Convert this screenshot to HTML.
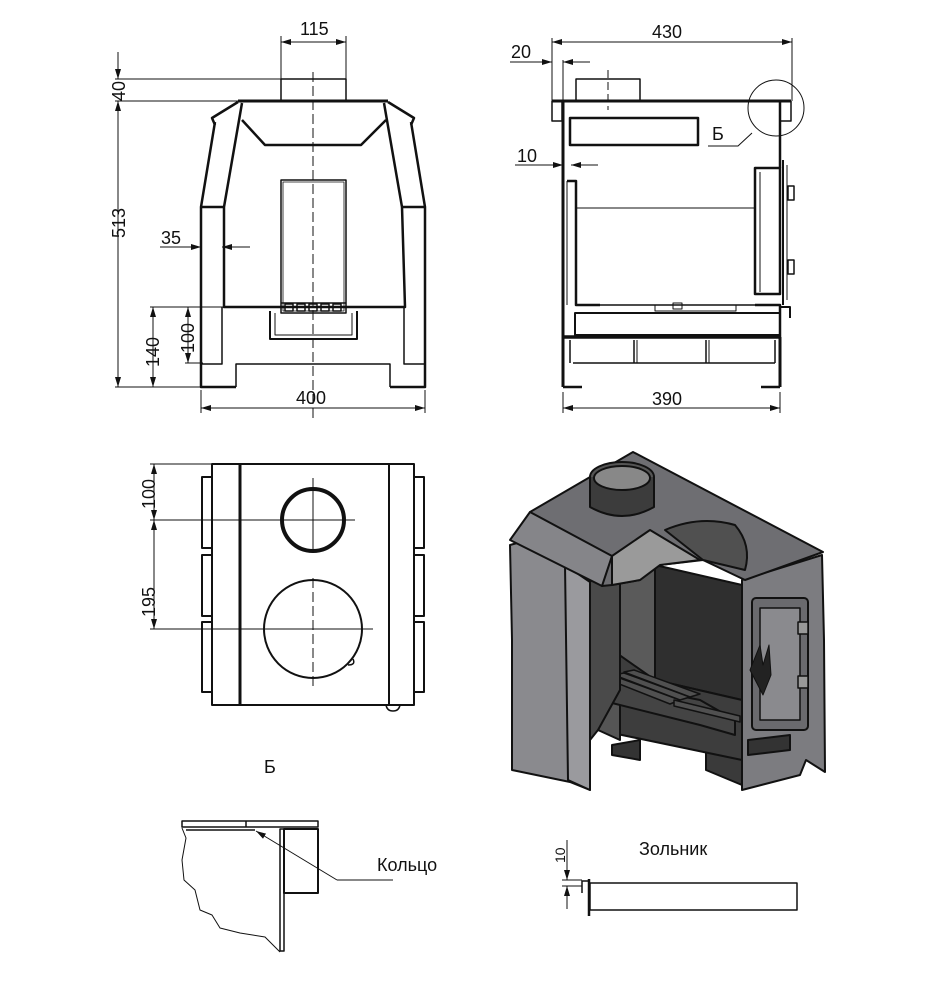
<!DOCTYPE html>
<html><head><meta charset="utf-8"><style>
html,body{margin:0;padding:0;background:#fff;}
svg{display:block;}
text{font-family:"Liberation Sans",sans-serif;fill:#111;}
</style></head><body>
<svg width="935" height="1000" viewBox="0 0 935 1000" xmlns="http://www.w3.org/2000/svg">
<defs>
<marker id="a" viewBox="0 0 10 6" refX="10" refY="3" markerWidth="10" markerHeight="6" orient="auto-start-reverse" markerUnits="userSpaceOnUse"><path d="M0,0 L10,3 L0,6 z" fill="#111"/></marker>
</defs>
<g fill="none" stroke="#111" stroke-linejoin="round">

<!-- ============ FRONT VIEW ============ -->
<g stroke-width="1">
<line x1="281" y1="36" x2="281" y2="79"/><line x1="346" y1="36" x2="346" y2="79"/>
<line x1="281" y1="42" x2="346" y2="42" marker-start="url(#a)" marker-end="url(#a)"/>
<line x1="115" y1="79" x2="281" y2="79"/><line x1="115" y1="101" x2="238" y2="101"/>
<line x1="118" y1="52" x2="118" y2="79" marker-end="url(#a)"/>
<line x1="118" y1="101" x2="118" y2="387" marker-start="url(#a)" marker-end="url(#a)"/>
<line x1="115" y1="387" x2="201" y2="387"/>
<line x1="160" y1="247" x2="201" y2="247" marker-end="url(#a)"/>
<line x1="222" y1="247" x2="250" y2="247" marker-start="url(#a)"/>
<line x1="150" y1="307" x2="223" y2="307"/>
<line x1="185" y1="363" x2="203" y2="363"/>
<line x1="153" y1="307" x2="153" y2="387" marker-start="url(#a)" marker-end="url(#a)"/>
<line x1="188" y1="307" x2="188" y2="363" marker-start="url(#a)" marker-end="url(#a)"/>
<line x1="201" y1="390" x2="201" y2="413"/><line x1="425" y1="390" x2="425" y2="413"/>
<line x1="201" y1="408" x2="425" y2="408" marker-start="url(#a)" marker-end="url(#a)"/>
<line x1="313" y1="72" x2="313" y2="420" stroke-dasharray="10,4"/>
</g>
<g stroke-width="2.5">
<rect x="281" y="79" width="65" height="22" stroke-width="1.5"/>
<line x1="238" y1="101" x2="388" y2="101" stroke-width="3"/>
<polyline points="238,102 212,118 215,125"/>
<polyline points="388,102 414,118 411,125"/>
<polyline points="215,122 201,207 201,387 236,387"/>
<polyline points="411,122 425,207 425,387 390,387"/>
<polyline points="242,103 224,207 224,307 405,307 402,207 384,103"/>
<polyline points="242,120 265,145 361,145 386,120"/>
<polyline points="224,207 201,207"/><polyline points="402,207 425,207"/>
<polyline points="236,387 236,364 390,364 390,387" stroke-width="1.5"/>
<polyline points="201,364 222,364 222,307" stroke-width="1.5"/>
<polyline points="425,364 404,364 404,307" stroke-width="1.5"/>
<polyline points="270,311 270,339 357,339 357,311" stroke-width="2"/>
<polyline points="275,313 275,335 352,335 352,313" stroke-width="1"/>
</g>
<g stroke-width="1.5">
<rect x="281" y="180" width="65" height="133"/>
<rect x="283" y="182" width="61" height="129" stroke-width="0.8"/>
<line x1="281" y1="303" x2="346" y2="303"/>
<rect x="285" y="304" width="8" height="7"/><rect x="297" y="304" width="8" height="7"/><rect x="309" y="304" width="8" height="7"/><rect x="321" y="304" width="8" height="7"/><rect x="333" y="304" width="8" height="7"/>
</g>

<!-- ============ SIDE VIEW ============ -->
<g stroke-width="1">
<line x1="552" y1="38" x2="552" y2="101"/><line x1="792" y1="38" x2="792" y2="101"/>
<line x1="552" y1="42" x2="792" y2="42" marker-start="url(#a)" marker-end="url(#a)"/>
<line x1="510" y1="62" x2="552" y2="62" marker-end="url(#a)"/>
<line x1="563" y1="62" x2="590" y2="62" marker-start="url(#a)"/>
<line x1="563" y1="60" x2="563" y2="101"/>
<line x1="515" y1="165" x2="563" y2="165" marker-end="url(#a)"/>
<line x1="571" y1="165" x2="598" y2="165" marker-start="url(#a)"/>
<line x1="563" y1="392" x2="563" y2="413"/><line x1="780" y1="392" x2="780" y2="413"/>
<line x1="563" y1="408" x2="780" y2="408" marker-start="url(#a)" marker-end="url(#a)"/>
<line x1="608" y1="70" x2="608" y2="110" stroke-dasharray="8,4"/>
<circle cx="776" cy="108" r="28"/>
<polyline points="708,146 738,146 752,133"/>
<line x1="577" y1="208" x2="755" y2="208"/>
</g>
<g stroke-width="2.5">
<rect x="576" y="79" width="64" height="22" stroke-width="1.5"/>
<line x1="552" y1="101" x2="791" y2="101" stroke-width="3"/>
<polyline points="552,101 552,121 562,121 562,101" stroke-width="1.5"/>
<polyline points="791,101 791,121 780,121 780,101" stroke-width="1.5"/>
<line x1="563" y1="101" x2="563" y2="387" stroke-width="3"/>
<line x1="780" y1="101" x2="780" y2="168"/>
<rect x="570" y="118" width="128" height="27"/>
<polyline points="567,181 576,181 576,305 600,305"/>
<line x1="567" y1="181" x2="567" y2="305" stroke-width="1"/>
<rect x="755" y="168" width="25" height="126"/>
<line x1="760" y1="172" x2="760" y2="292" stroke-width="1"/>
<line x1="783" y1="160" x2="783" y2="305" stroke-width="2"/>
<line x1="787" y1="165" x2="787" y2="300" stroke-width="1"/>
<rect x="788" y="186" width="6" height="14" stroke-width="1.5"/>
<rect x="788" y="260" width="6" height="14" stroke-width="1.5"/>
<line x1="600" y1="305" x2="755" y2="305" stroke-width="1.5"/>
<polyline points="655,305 655,311 736,311 736,305" stroke-width="1"/>
<rect x="673" y="303" width="9" height="6" stroke-width="1"/>
<polyline points="755,305 780,305 780,337"/>
<polyline points="780,307 790,307 790,318" stroke-width="2"/>
<rect x="575" y="313" width="205" height="22" stroke-width="2"/>
<line x1="563" y1="337" x2="780" y2="337" stroke-width="3.5"/>
<line x1="573" y1="363" x2="775" y2="363" stroke-width="1.5"/>
<line x1="570" y1="340" x2="570" y2="363" stroke-width="1.5"/>
<line x1="634" y1="340" x2="634" y2="363" stroke-width="1.5"/>
<line x1="637" y1="340" x2="637" y2="363" stroke-width="1"/>
<line x1="706" y1="340" x2="706" y2="363" stroke-width="1.5"/>
<line x1="709" y1="340" x2="709" y2="363" stroke-width="1"/>
<line x1="775" y1="340" x2="775" y2="363" stroke-width="1.5"/>
<line x1="780" y1="337" x2="780" y2="387" stroke-width="3"/>
<line x1="563" y1="387" x2="582" y2="387"/><line x1="761" y1="387" x2="780" y2="387"/>
</g>

<!-- ============ TOP VIEW ============ -->
<g stroke-width="1">
<line x1="150" y1="464" x2="212" y2="464"/>
<line x1="150" y1="520" x2="355" y2="520"/>
<line x1="150" y1="629" x2="373" y2="629"/>
<line x1="154" y1="464" x2="154" y2="520" marker-start="url(#a)" marker-end="url(#a)"/>
<line x1="154" y1="520" x2="154" y2="629" marker-start="url(#a)" marker-end="url(#a)"/>
<line x1="313" y1="478" x2="313" y2="553"/>
<line x1="313" y1="578" x2="313" y2="690" stroke-dasharray="10,4"/>
</g>
<g stroke-width="2">
<rect x="212" y="464" width="202" height="241"/>
<line x1="240" y1="464" x2="240" y2="705" stroke-width="3"/>
<line x1="389" y1="464" x2="389" y2="705"/>
<path d="M212,477 h-10 v71 h10 M212,555 h-10 v61 h10 M212,622 h-10 v70 h10"/>
<path d="M414,477 h10 v71 h-10 M414,555 h10 v61 h-10 M414,622 h10 v70 h-10"/>
<circle cx="313" cy="520" r="31" stroke-width="4"/>
<circle cx="313" cy="629" r="49"/>
<path d="M386,705 q1,6 7,6 q6,0 7,-6" stroke-width="1.5"/>
<path d="M348,665 q8,0 5,-6" stroke-width="1.5"/>
</g>

<!-- ============ DETAIL Б ============ -->
<g stroke-width="1.5">
<rect x="182" y="821" width="136" height="6"/>
<line x1="186" y1="830" x2="255" y2="830"/>
<line x1="246" y1="821" x2="246" y2="827"/>
<rect x="280" y="829" width="4" height="122"/>
<rect x="284" y="829" width="34" height="64" stroke-width="2"/>
<path d="M182,828 L186,838 L182,860 L184,880 L195,890 L200,910 L212,915 L220,928 L240,933 L265,937 L280,952" stroke-width="1"/>
<line x1="337" y1="880" x2="393" y2="880" stroke-width="1"/>
<line x1="337" y1="880" x2="256" y2="831" stroke-width="1" marker-end="url(#a)"/>
</g>
<g stroke-width="1.5">
<rect x="590" y="883" width="207" height="27"/>
<line x1="589" y1="879" x2="589" y2="916" stroke-width="2.5"/>
<path d="M582,893 v-12 h7" stroke-width="1.5"/>
<line x1="567" y1="840" x2="567" y2="880" stroke-width="1" marker-end="url(#a)"/>
<line x1="567" y1="909" x2="567" y2="886" stroke-width="1" marker-end="url(#a)"/>
<line x1="562" y1="880" x2="582" y2="880" stroke-width="1"/>
<line x1="562" y1="886" x2="582" y2="886" stroke-width="1"/>
</g>
</g>

<!-- ============ ISOMETRIC ============ -->
<g stroke="#111" stroke-width="2" stroke-linejoin="round">
<polygon points="742,580 822,555 824,640 825,772 806,760 800,775 742,790" fill="#7c7c80"/>
<polygon points="742,590 742,785 706,770 706,590" fill="#3a3a3a"/>
<polygon points="655,565 742,585 742,700 655,680" fill="#2f2f2f"/>
<polygon points="620,575 655,565 655,680 620,690" fill="#5a5a5a"/>
<polygon points="598,640 655,680 742,700 742,760 598,730" fill="#3d3d3d"/>
<polygon points="598,640 610,635 620,640 620,740 598,730" fill="#555"/>
<polygon points="600,680 700,700 735,720 735,735 700,725 600,700" fill="#444"/>
<g stroke-width="1.5" fill="#505050">
<polygon points="604,678 614,676 680,700 670,704"/>
<polygon points="614,675 624,673 690,697 680,700"/>
<polygon points="624,672 634,670 700,694 690,697"/>
<polygon points="674,700 740,716 740,722 674,706"/>
</g>
<polygon points="612,745 640,740 640,760 612,755" fill="#333"/>
<polygon points="510,545 528,540 565,565 590,582 590,790 570,782 512,770 512,640" fill="#8a8a8e"/>
<polygon points="565,565 590,582 590,790 568,780" fill="#9a9a9e"/>
<polygon points="590,582 605,560 620,575 620,690 598,730 590,740" fill="#4a4a4a"/>
<polygon points="530,512 633,452 823,552 745,580 703,560 660,565 640,580 612,585 602,586" fill="#6e6e72"/>
<polygon points="510,540 530,512 612,556 602,586" fill="#858589"/>
<polygon points="612,556 650,530 700,560 660,565 640,580 612,585" fill="#9a9a9a"/>
<path d="M665,530 Q700,515 735,525 Q752,545 745,570 L703,560 Z" fill="#505050"/>
<ellipse cx="622" cy="477" rx="32" ry="15" fill="#555"/>
<path d="M590,477 v30 q32,18 64,0 v-30" fill="#3c3c3c"/>
<ellipse cx="622" cy="478" rx="28" ry="12" fill="#888"/>
<rect x="752" y="598" width="56" height="132" rx="4" fill="#6a6a6e"/>
<rect x="760" y="608" width="40" height="112" fill="#8a8a8e" stroke-width="1.5"/>
<path d="M750,670 l10,-25 l3,20 l6,-20 l2,30 l-8,20z" fill="#222" stroke-width="1"/>
<rect x="798" y="622" width="10" height="12" fill="#999" stroke-width="1.5"/>
<rect x="798" y="676" width="10" height="12" fill="#999" stroke-width="1.5"/>
<polygon points="748,740 790,735 790,750 748,755" fill="#333"/>
</g>

<!-- ============ TEXT ============ -->
<g font-size="18">
<text x="300" y="35">115</text>
<text x="296" y="404">400</text>
<text x="161" y="244">35</text>
<text x="652" y="38">430</text>
<text x="511" y="58">20</text>
<text x="517" y="162">10</text>
<text x="652" y="405">390</text>
<text x="712" y="140">Б</text>
<text x="264" y="773">Б</text>
<text x="377" y="871">Кольцо</text>
<text x="639" y="855">Зольник</text>
<text transform="translate(125,101) rotate(-90)">40</text>
<text transform="translate(125,238) rotate(-90)">513</text>
<text transform="translate(159,367) rotate(-90)">140</text>
<text transform="translate(194,353) rotate(-90)">100</text>
<text transform="translate(155,509) rotate(-90)">100</text>
<text transform="translate(155,617) rotate(-90)">195</text>
<text transform="translate(565,863) rotate(-90)" font-size="14">10</text>
</g>
</svg>
</body></html>
